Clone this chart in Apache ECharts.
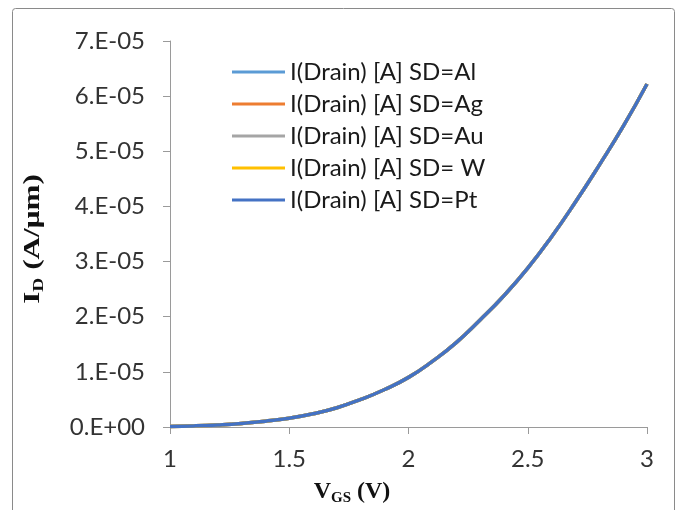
<!DOCTYPE html>
<html><head><meta charset="utf-8">
<script src="https://cdn.jsdelivr.net/npm/echarts@6/dist/echarts.min.js"></script>
<style>html,body{margin:0;padding:0;background:#fff}#c{width:681px;height:510px}</style>
</head><body><div id="c"></div>
<script>
// V_GS values (V)
const vgs = [1.0,1.1,1.2,1.3,1.4,1.5,1.6,1.7,1.8,1.9,2.0,2.1,2.2,2.3,2.4,2.5,2.6,2.7,2.8,2.9,3.0];
// I_D (A/um) for each source/drain metal (curves overlap)
const idAl = [1e-7,2e-7,3.8e-7,6.5e-7,1.05e-6,1.6e-6,2.4e-6,3.5e-6,5.0e-6,6.8e-6,9.0e-6,1.19e-5,1.53e-5,1.94e-5,2.38e-5,2.88e-5,3.45e-5,4.08e-5,4.75e-5,5.45e-5,6.22e-5];
const idAg = [1e-7,2e-7,3.8e-7,6.5e-7,1.05e-6,1.6e-6,2.4e-6,3.5e-6,5.0e-6,6.8e-6,9.0e-6,1.19e-5,1.53e-5,1.94e-5,2.38e-5,2.88e-5,3.45e-5,4.08e-5,4.75e-5,5.45e-5,6.22e-5];
const idAu = [1e-7,2e-7,3.8e-7,6.5e-7,1.05e-6,1.6e-6,2.4e-6,3.5e-6,5.0e-6,6.8e-6,9.0e-6,1.19e-5,1.53e-5,1.94e-5,2.38e-5,2.88e-5,3.45e-5,4.08e-5,4.75e-5,5.45e-5,6.22e-5];
const idW  = [1e-7,2e-7,3.8e-7,6.5e-7,1.05e-6,1.6e-6,2.4e-6,3.5e-6,5.0e-6,6.8e-6,9.0e-6,1.19e-5,1.53e-5,1.94e-5,2.38e-5,2.88e-5,3.45e-5,4.08e-5,4.75e-5,5.45e-5,6.22e-5];
const idPt = [1e-7,2e-7,3.8e-7,6.5e-7,1.05e-6,1.6e-6,2.4e-6,3.5e-6,5.0e-6,6.8e-6,9.0e-6,1.19e-5,1.53e-5,1.94e-5,2.38e-5,2.88e-5,3.45e-5,4.08e-5,4.75e-5,5.45e-5,6.22e-5];
const seriesNames = ['I(Drain) [A] SD=Al','I(Drain) [A] SD=Ag','I(Drain) [A] SD=Au','I(Drain) [A] SD= W','I(Drain) [A] SD=Pt'];
const seriesData = [idAl, idAg, idAu, idW, idPt];
const colors = ['#5B9BD5','#ED7D31','#A5A5A5','#FFC000','#4472C4'];

function sci(v){
  if (Math.abs(v) < 1e-20) return '0.E+00';
  let e = Math.floor(Math.log10(Math.abs(v)) + 1e-9);
  let m = Math.round(v / Math.pow(10, e));
  if (m >= 10) { m = 1; e += 1; }
  const s = e < 0 ? '-' : '+';
  const a = Math.abs(e);
  return m + '.E' + s + (a < 10 ? '0' + a : a);
}

const chart = echarts.init(document.getElementById('c'));
const labelFont = 'Lato';
chart.setOption({
  animation: false,
  color: colors,
  grid: {left: 170, right: 34, top: 41, bottom: 83},
  legend: {
    orient: 'vertical', left: 227, top: 53,
    itemWidth: 53, itemHeight: 3, itemGap: 4, icon: 'rect',
    textStyle: {fontFamily: labelFont, fontSize: 24, color: '#1a1a1a', lineHeight: 28},
    data: seriesNames
  },
  xAxis: {
    type: 'value', min: 1, max: 3, interval: 0.5,
    axisLine: {show: true, lineStyle: {color: '#9a9a9a', width: 1}},
    axisTick: {show: true, length: 7, lineStyle: {color: '#9a9a9a'}},
    splitLine: {show: false},
    axisLabel: {margin: 20, fontFamily: labelFont, fontSize: 24, color: '#333'}
  },
  yAxis: {
    type: 'value', min: 0, max: 7e-5, interval: 1e-5,
    axisLine: {show: true, lineStyle: {color: '#9a9a9a', width: 1}},
    axisTick: {show: true, length: 7, lineStyle: {color: '#9a9a9a'}},
    splitLine: {show: false},
    axisLabel: {margin: 25, fontFamily: labelFont, fontSize: 24, color: '#333', formatter: sci}
  },
  graphic: [
    {type: 'rect', silent: true, shape: {x: 12.5, y: 8.5, width: 662, height: 520, r: 3},
     style: {fill: 'none', stroke: '#8a8a8a', lineWidth: 1}},
    {type: 'text', x: 352, y: 492,
     style: {text: '{b|V}{s|GS}{b| (V)}', align: 'center', verticalAlign: 'middle',
       rich: {b: {fontFamily: 'Liberation Serif', fontWeight: 'bold', fontSize: 24, lineHeight: 28, fill: '#111'},
              s: {fontFamily: 'Liberation Serif', fontWeight: 'bold', fontSize: 15, lineHeight: 15, verticalAlign: 'bottom', fill: '#111'}}}},
    {type: 'text', x: 33, y: 239, rotation: Math.PI / 2, scaleX: 1.3,
     style: {text: '{b|I}{s|D}{b| (A/μm)}', align: 'center', verticalAlign: 'middle',
       rich: {b: {fontFamily: 'Liberation Serif', fontWeight: 'bold', fontSize: 24, lineHeight: 28, fill: '#111'},
              s: {fontFamily: 'Liberation Serif', fontWeight: 'bold', fontSize: 15, lineHeight: 15, verticalAlign: 'bottom', fill: '#111'}}}}
  ],
  series: seriesNames.map((n, i) => ({
    name: n, type: 'line', smooth: true, showSymbol: false,
    lineStyle: {width: 3.5, color: colors[i]},
    data: vgs.map((x, k) => [x, seriesData[i][k]])
  }))
});
</script></body></html>
